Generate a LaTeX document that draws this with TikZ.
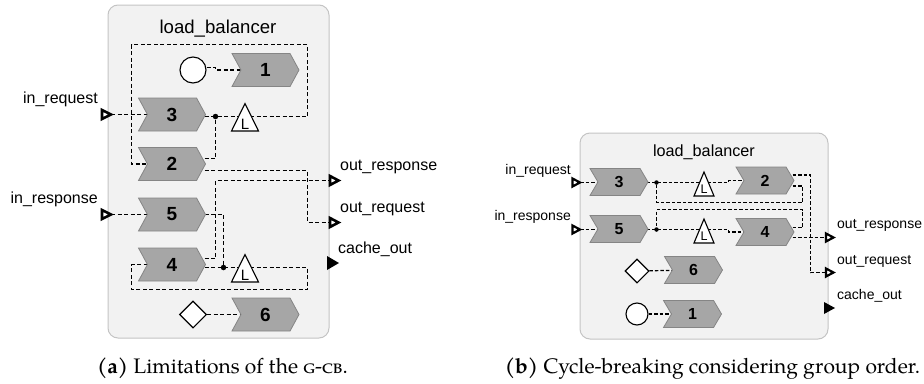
\documentclass[tikz,border=0pt]{standalone}
\usepackage{fontspec}
\setmainfont{TeX Gyre Pagella}
\newfontfamily\arialf{Liberation Sans}
\usetikzlibrary{shapes.symbols,shapes.geometric}
\pgfdeclarelayer{back}
\pgfdeclarelayer{wires}
\pgfsetlayers{back,wires,main}
\definecolor{contfill}{HTML}{F2F2F2}
\definecolor{contline}{HTML}{C4C4C4}
\definecolor{chevfill}{HTML}{A6A6A6}
\definecolor{chevline}{HTML}{858585}
\begin{document}
\begin{tikzpicture}[x=1pt,y=-1pt,
  cont/.style={draw=contline, fill=contfill, rounded corners=10pt, line width=1pt, inner sep=0pt},
  chevA/.style={signal, signal to=east, signal from=west, signal pointer angle=123, draw=chevline, fill=chevfill, line width=0.8pt, inner sep=0pt, minimum width=67pt, minimum height=33pt, font=\arialf\bfseries\fontsize{19}{19}\selectfont},
  chevB/.style={chevA, signal pointer angle=119, minimum width=58pt, minimum height=27pt, font=\arialf\bfseries\fontsize{16}{16}\selectfont},
  conn/.style={draw=black, line width=1.4pt, dash pattern=on 4pt off 2.5pt},
  connB/.style={draw=black, line width=1.2pt, dash pattern=on 3.5pt off 2pt},
  dotA/.style={circle, fill=black, inner sep=0pt, minimum size=5.5pt},
  dotB/.style={circle, fill=black, inner sep=0pt, minimum size=4.5pt},
  circA/.style={circle, draw=black, fill=white, line width=1.1pt, inner sep=0pt, minimum size=26pt},
  circB/.style={circA, minimum size=22pt},
  diaA/.style={diamond, draw=black, fill=white, line width=1.1pt, inner sep=0pt, minimum width=27pt, minimum height=27pt},
  diaB/.style={diaA, minimum width=24pt, minimum height=24pt},
  ltri/.style={draw=black, fill=white, line width=1.1pt, line join=miter},
  lfontA/.style={inner sep=0pt, font=\arialf\fontsize{15}{15}\selectfont},
  lfontB/.style={inner sep=0pt, font=\arialf\fontsize{12.5}{12.5}\selectfont},
  portA/.style={draw=black, fill=white, line width=2.6pt, line join=miter},
  portB/.style={draw=black, fill=white, line width=2.2pt, line join=miter},
  titleA/.style={inner sep=0pt, font=\arialf\fontsize{18.6}{18.6}\selectfont},
  titleB/.style={inner sep=0pt, font=\arialf\fontsize{16.2}{16.2}\selectfont},
  lblA/.style={inner sep=0pt, font=\arialf\fontsize{16}{16}\selectfont},
  lblB/.style={inner sep=0pt, font=\arialf\fontsize{14}{14}\selectfont},
  capt/.style={inner sep=0pt, font=\fontsize{21}{21}\selectfont}
]
\useasboundingbox (0,0) rectangle (924,383);

% ---------------- containers
\begin{pgfonlayer}{back}
\node[cont, minimum width=221pt, minimum height=333pt] (boxA) at (218.5,171.5) {};
\node[cont, minimum width=248pt, minimum height=206pt] (boxB) at (704,236) {};
\end{pgfonlayer}

% ================= panel (a)
\node[titleA, anchor=base] (titA) at (218,33) {load\_balancer};
\node[chevA] (a1) at (265.5,70) {1};
\node[chevA] (a3) at (172,114.5) {3};
\node[chevA] (a2) at (172,164) {2};
\node[chevA] (a5) at (172,214.5) {5};
\node[chevA] (a4) at (172,264.5) {4};
\node[chevA] (a6) at (265.5,314.5) {6};
\node[circA] (oA) at (193,70) {};
\node[diaA] (dmA) at (193,314.5) {};
\node[dotA] (jA1) at (215.5,116.5) {};
\node[dotA] (jA2) at (223.5,267.5) {};
\coordinate (LA1) at (245,116.5);
\coordinate (LA2) at (245,267.5);
\draw[ltri] ([shift={(0,-13)}]LA1) -- ([shift={(13.5,14.5)}]LA1) -- ([shift={(-13.5,14.5)}]LA1) -- cycle;
\node[lfontA] (LtA1) at ([shift={(0,7.5)}]LA1) {L};
\draw[ltri] ([shift={(0,-13)}]LA2) -- ([shift={(13.5,14.5)}]LA2) -- ([shift={(-13.5,14.5)}]LA2) -- cycle;
\node[lfontA] (LtA2) at ([shift={(0,7.5)}]LA2) {L};

\coordinate (piA1) at (111,114.5);
\coordinate (piA2) at (111,214.5);
\coordinate (poA1) at (330,180.5);
\coordinate (poA2) at (330,222.5);
\coordinate (poA3) at (327,263);
\draw[portA] ([shift={(-9,-4.5)}]piA1) -- (piA1) -- ([shift={(-9,4.5)}]piA1) -- cycle;
\draw[portA] ([shift={(-9,-4.5)}]piA2) -- (piA2) -- ([shift={(-9,4.5)}]piA2) -- cycle;
\draw[portA] ([shift={(0,-4.5)}]poA1) -- ([shift={(8.5,0)}]poA1) -- ([shift={(0,4.5)}]poA1) -- cycle;
\draw[portA] ([shift={(0,-4.5)}]poA2) -- ([shift={(8.5,0)}]poA2) -- ([shift={(0,4.5)}]poA2) -- cycle;
\fill[black] ([shift={(0,-7)}]poA3) -- ([shift={(12,0)}]poA3) -- ([shift={(0,7)}]poA3) -- cycle;

\node[lblA, anchor=base east] (tInReqA) at (98,103) {in\_request};
\node[lblA, anchor=base east] (tInRespA) at (98,203) {in\_response};
\node[lblA, anchor=base west] (tOutRespA) at (340,170) {out\_response};
\node[lblA, anchor=base west] (tOutReqA) at (340,212) {out\_request};
\node[lblA, anchor=base west] (tCacheA) at (338,253) {cache\_out};

\begin{pgfonlayer}{wires}
\draw[conn] ([shift={(0,-2.5)}]oA.east) -- ++(9,0) |- (a1.center);
\draw[conn] (piA1) -- (a3.center);
\draw[conn] (a3.center |- jA1) -- (jA1.center) -- (LA1) -| (307.5,44.5) -- (131.5,44.5) |- (a2.center);
\draw[conn] ([shift={(0,-5.5)}]a2.center) -| (jA1.center);
\draw[conn] ([shift={(0,6.5)}]a2.center) -| (307.5,222.5) -- (poA2);
\draw[conn] ([shift={(0,-6)}]a4.center) -| (215.5,180.5) -- (poA1);
\draw[conn] (piA2) -- (a5.center);
\draw[conn] (a5.center) -| (jA2.center);
\draw[conn] (a4.center |- jA2) -- (jA2.center) -- (LA2) -| (307.5,289.5) -- (131.5,289.5) |- (a4.center);
\draw[conn] (dmA) -- (a6.center);
\end{pgfonlayer}

% ================= panel (b)
\node[titleB, anchor=base] (titB) at (704,156) {load\_balancer};
\node[chevB] (b3) at (619,182) {3};
\node[chevB] (b2) at (765,180.5) {2};
\node[chevB] (b5) at (619,229) {5};
\node[chevB] (b4) at (765,232) {4};
\node[chevB] (b6) at (693.5,270) {6};
\node[chevB] (b1) at (692.5,314) {1};
\node[diaB] (dmB) at (637,271) {};
\node[circB] (oB) at (637,314) {};
\node[dotB] (jB1) at (656.5,182.5) {};
\node[dotB] (jB2) at (656.5,229.5) {};
\coordinate (LB1) at (704,182.5);
\coordinate (LB2) at (704,229.5);
\draw[ltri] ([shift={(0,-10.5)}]LB1) -- ([shift={(10,13.5)}]LB1) -- ([shift={(-10,13.5)}]LB1) -- cycle;
\node[lfontB] (LtB1) at ([shift={(0,7)}]LB1) {L};
\draw[ltri] ([shift={(0,-10.5)}]LB2) -- ([shift={(10,13.5)}]LB2) -- ([shift={(-10,13.5)}]LB2) -- cycle;
\node[lfontB] (LtB2) at ([shift={(0,7)}]LB2) {L};

\coordinate (piB1) at (580,182.5);
\coordinate (piB2) at (580,229.5);
\coordinate (poB1) at (826,237.5);
\coordinate (poB2) at (826,272.5);
\coordinate (poB3) at (824,308);
\draw[portB] ([shift={(-7.5,-4)}]piB1) -- (piB1) -- ([shift={(-7.5,4)}]piB1) -- cycle;
\draw[portB] ([shift={(-7.5,-4)}]piB2) -- (piB2) -- ([shift={(-7.5,4)}]piB2) -- cycle;
\draw[portB] ([shift={(0,-4)}]poB1) -- ([shift={(7.5,0)}]poB1) -- ([shift={(0,4)}]poB1) -- cycle;
\draw[portB] ([shift={(0,-4)}]poB2) -- ([shift={(7.5,0)}]poB2) -- ([shift={(0,4)}]poB2) -- cycle;
\fill[black] ([shift={(0,-6)}]poB3) -- ([shift={(11,0)}]poB3) -- ([shift={(0,6)}]poB3) -- cycle;

\node[lblB, anchor=base east] (tInReqB) at (571,174) {in\_request};
\node[lblB, anchor=base east] (tInRespB) at (571,220) {in\_response};
\node[lblB, anchor=base west] (tOutRespB) at (837,228) {out\_response};
\node[lblB, anchor=base west] (tOutReqB) at (837,264) {out\_request};
\node[lblB, anchor=base west] (tCacheB) at (837,299) {cache\_out};

\begin{pgfonlayer}{wires}
\draw[connB] (piB1) -- (b3.center |- piB1);
\draw[connB] (b3.center |- jB1) -- (jB1.center) -- (LB1) -- (728.5,182.5) |- (b2.center);
\draw[connB] ([shift={(0,5.5)}]b2.center) -| (802.5,202.5) -| (jB1.center);
\draw[connB] ([shift={(0,-5.5)}]b2.center) -| (810.5,272.5) -- (poB2);
\draw[connB] (piB2) -- (b5.center |- piB2);
\draw[connB] (b5.center |- jB2) -- (jB2.center) -- (LB2) -- (728.5,229.5) |- (b4.center);
\draw[connB] ([shift={(0,-4.5)}]b4.center) -| (802.5,209.5) -| (jB2.center);
\draw[connB] (b4.center |- poB1) -- (poB1);
\draw[connB] (dmB) -- (b6.center);
\draw[connB] (oB) -- (b1.center);
\end{pgfonlayer}

% ================= captions
\node[capt, anchor=base] (capA) at (222.5,373) {\textbf{(a)} Limitations of the \textsc{g-cb}.};
\node[capt, anchor=base] (capB) at (712.5,373) {\textbf{(b)} Cycle-breaking considering group order.};
\end{tikzpicture}
\end{document}
